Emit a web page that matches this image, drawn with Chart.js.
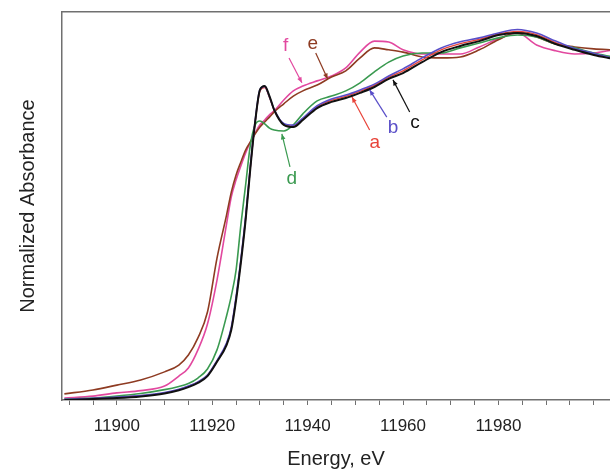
<!DOCTYPE html>
<html>
<head>
<meta charset="utf-8">
<script src="https://cdn.jsdelivr.net/npm/chart.js@4.4.0/dist/chart.umd.min.js"></script>
<style>
  body { margin: 0; background: #fff; }
  #wrap { width: 610px; height: 472px; }
</style>
</head>
<body>
<div id="wrap"><canvas id="myChart" width="610" height="472"></canvas></div>
<script>
// energies (eV) shared by all spectra
const energy = [11889, 11895, 11900, 11905, 11910, 11913, 11915, 11917, 11919, 11921,
  11923, 11924, 11925, 11926, 11927, 11928, 11929, 11930, 11931, 11932,
  11933, 11935, 11937, 11939, 11942, 11945, 11948, 11951, 11954, 11957,
  11960, 11964, 11968, 11972, 11976, 11980, 11984, 11988, 11992, 11996,
  12000, 12004];

const specA = [0.001, 0.004, 0.008, 0.013, 0.022, 0.032, 0.042, 0.055, 0.076, 0.120,
  0.173, 0.221, 0.315, 0.43, 0.562, 0.72, 0.86, 0.955, 0.966, 0.936,
  0.896, 0.853, 0.847, 0.869, 0.907, 0.927, 0.939, 0.955, 0.973, 0.998,
  1.018, 1.052, 1.083, 1.102, 1.115, 1.132, 1.14, 1.13, 1.105, 1.085,
  1.07, 1.056];
const specB = [0.002, 0.005, 0.009, 0.014, 0.023, 0.033, 0.043, 0.056, 0.077, 0.122,
  0.176, 0.225, 0.32, 0.435, 0.567, 0.725, 0.863, 0.960, 0.970, 0.938,
  0.898, 0.855, 0.850, 0.872, 0.910, 0.931, 0.943, 0.959, 0.977, 1.002,
  1.024, 1.058, 1.089, 1.108, 1.12, 1.135, 1.146, 1.135, 1.11, 1.087,
  1.072, 1.057];
const specC = [0.0, 0.003, 0.006, 0.011, 0.020, 0.030, 0.040, 0.053, 0.074, 0.118,
  0.170, 0.217, 0.309, 0.424, 0.557, 0.718, 0.860, 0.959, 0.971, 0.940,
  0.897, 0.851, 0.844, 0.866, 0.903, 0.922, 0.934, 0.950, 0.968, 0.993,
  1.011, 1.045, 1.076, 1.095, 1.110, 1.129, 1.135, 1.126, 1.101, 1.083,
  1.067, 1.055];
const specD = [0.003, 0.006, 0.012, 0.020, 0.032, 0.042, 0.051, 0.068, 0.096, 0.155,
  0.260, 0.322, 0.402, 0.541, 0.665, 0.789, 0.851, 0.863, 0.854, 0.841,
  0.835, 0.832, 0.851, 0.885, 0.925, 0.940, 0.956, 0.981, 1.015, 1.045,
  1.064, 1.073, 1.073, 1.089, 1.104, 1.120, 1.129, 1.123, 1.101, 1.089,
  1.073, 1.061];
const specE = [0.019, 0.031, 0.046, 0.062, 0.087, 0.108, 0.139, 0.192, 0.272, 0.439,
  0.572, 0.643, 0.696, 0.736, 0.773, 0.798, 0.823, 0.844, 0.860, 0.875,
  0.891, 0.916, 0.940, 0.956, 0.974, 0.999, 1.018, 1.058, 1.089, 1.083,
  1.076, 1.061, 1.058, 1.061, 1.083, 1.114, 1.138, 1.123, 1.101, 1.092,
  1.086, 1.083];
const specF = [0.006, 0.012, 0.022, 0.029, 0.043, 0.074, 0.099, 0.155, 0.235, 0.371,
  0.544, 0.628, 0.681, 0.724, 0.764, 0.798, 0.826, 0.851, 0.866, 0.882,
  0.894, 0.928, 0.956, 0.971, 0.987, 1.002, 1.027, 1.076, 1.110, 1.107,
  1.083, 1.070, 1.070, 1.070, 1.092, 1.117, 1.135, 1.098, 1.080, 1.070,
  1.073, 1.083];

const xTicks = [11900, 11920, 11940, 11960, 11980];

// curve labels: text, colour, label position, arrow start, arrow end (data units)
const labels = [
  { t: 'f', c: '#e2489f', at: [11935.4, 1.095], from: [11936.1, 1.058], to: [11938.8, 0.981] },
  { t: 'e', c: '#8e3b22', at: [11941.1, 1.101], from: [11941.7, 1.073], to: [11944.2, 0.993] },
  { t: 'a', c: '#e8443a', at: [11954.1, 0.795], from: [11953.0, 0.835], to: [11949.3, 0.937] },
  { t: 'b', c: '#5a4fc8', at: [11957.9, 0.841], from: [11956.6, 0.875], to: [11953.0, 0.959] },
  { t: 'c', c: '#111111', at: [11962.5, 0.857], from: [11961.4, 0.891], to: [11957.9, 0.990] },
  { t: 'd', c: '#3a9a50', at: [11936.7, 0.684], from: [11936.3, 0.721], to: [11934.6, 0.823] }
];

function pts(vals) {
  return energy.map((e, i) => ({ x: e, y: vals[i] }));
}

const axisGrey = '#707070';
const fontFam = '"Liberation Sans", Arial, sans-serif';

const curveLabels = {
  id: 'curveLabels',
  afterDatasetsDraw(chart) {
    const ctx = chart.ctx;
    const sx = chart.scales.x, sy = chart.scales.y;
    ctx.save();
    labels.forEach(l => {
      const x1 = sx.getPixelForValue(l.from[0]), y1 = sy.getPixelForValue(l.from[1]);
      const x2 = sx.getPixelForValue(l.to[0]), y2 = sy.getPixelForValue(l.to[1]);
      ctx.strokeStyle = l.c;
      ctx.fillStyle = l.c;
      ctx.lineWidth = 1.2;
      ctx.beginPath();
      ctx.moveTo(x1, y1);
      ctx.lineTo(x2, y2);
      ctx.stroke();
      const ang = Math.atan2(y2 - y1, x2 - x1);
      ctx.beginPath();
      ctx.moveTo(x2, y2);
      ctx.lineTo(x2 - 6 * Math.cos(ang - 0.4), y2 - 6 * Math.sin(ang - 0.4));
      ctx.lineTo(x2 - 6 * Math.cos(ang + 0.4), y2 - 6 * Math.sin(ang + 0.4));
      ctx.closePath();
      ctx.fill();
      ctx.font = '19px ' + fontFam;
      ctx.textAlign = 'center';
      ctx.textBaseline = 'middle';
      ctx.fillText(l.t, sx.getPixelForValue(l.at[0]), sy.getPixelForValue(l.at[1]));
    });
    ctx.restore();
  }
};

const ctx = document.getElementById('myChart').getContext('2d');
const myChart = new Chart(ctx, {
  type: 'line',
  data: {
    datasets: [
      { label: 'c', data: pts(specC), borderColor: '#111111', borderWidth: 2, order: 1 },
      { label: 'b', data: pts(specB), borderColor: '#5a4fc8', borderWidth: 1.6, order: 2 },
      { label: 'a', data: pts(specA), borderColor: '#e8443a', borderWidth: 1.4, order: 3 },
      { label: 'd', data: pts(specD), borderColor: '#3a9a50', borderWidth: 1.6, order: 4 },
      { label: 'e', data: pts(specE), borderColor: '#8e3b22', borderWidth: 1.6, order: 5 },
      { label: 'f', data: pts(specF), borderColor: '#e2489f', borderWidth: 1.6, order: 6 }
    ].map(d => Object.assign(d, { pointRadius: 0, fill: false, cubicInterpolationMode: 'monotone' }))
  },
  options: {
    responsive: false,
    animation: false,
    layout: { padding: 0 },
    plugins: { legend: { display: false }, tooltip: { enabled: false } },
    scales: {
      x: {
        type: 'linear',
        min: 11888.5,
        max: 12003.4,
        afterBuildTicks(scale) {
          const t = [];
          for (let v = 11890; v <= 12000; v += 5) t.push({ value: v });
          scale.ticks = t;
        },
        afterFit(scale) { scale.height = 72; },
        grid: { display: true, drawOnChartArea: false, drawTicks: true, tickLength: 5, color: axisGrey },
        border: { display: true, color: axisGrey, width: 1.5 },
        ticks: {
          autoSkip: false,
          maxRotation: 0,
          padding: 11,
          color: '#222',
          font: { family: fontFam, size: 17 },
          callback: v => (xTicks.includes(v) ? String(v) : '')
        },
        title: {
          display: true,
          text: 'Energy, eV',
          color: '#222',
          font: { family: fontFam, size: 20 },
          padding: { top: 0, bottom: 1 }
        }
      },
      xTop: {
        type: 'linear',
        position: 'top',
        min: 11888.5,
        max: 12003.4,
        afterFit(scale) { scale.height = 12; },
        grid: { display: true, drawOnChartArea: false, drawTicks: false, color: axisGrey },
        border: { display: true, color: axisGrey, width: 1.5 },
        ticks: { display: false }
      },
      y: {
        min: 0,
        max: 1.2,
        afterFit(scale) { scale.width = 62; },
        grid: { display: true, drawOnChartArea: false, drawTicks: false, color: axisGrey },
        border: { display: true, color: axisGrey, width: 1.5 },
        ticks: { display: false },
        title: {
          display: true,
          text: 'Normalized Absorbance',
          color: '#222',
          font: { family: fontFam, size: 20 },
          padding: { top: 16, bottom: 0 }
        }
      }
    }
  },
  plugins: [curveLabels]
});
</script>
</body>
</html>
